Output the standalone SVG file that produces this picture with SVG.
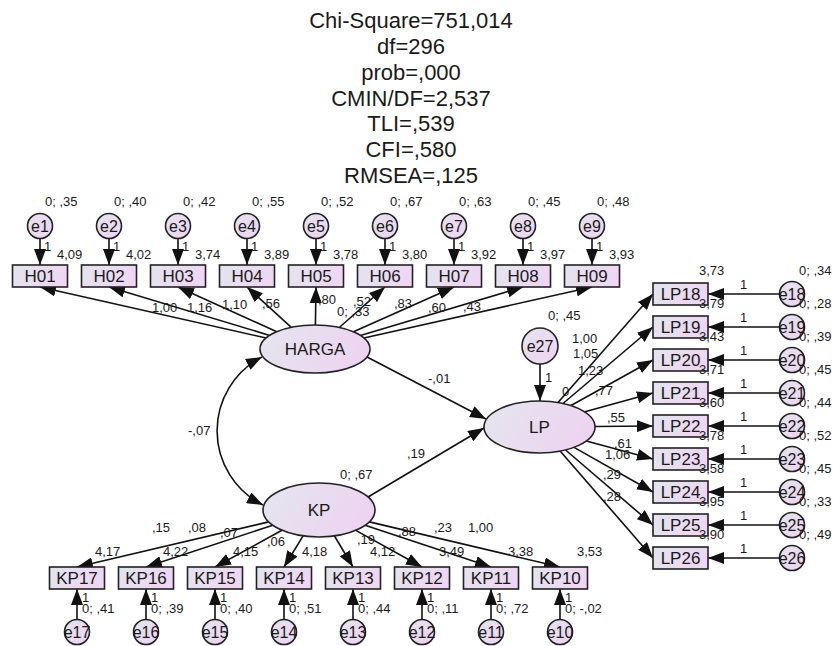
<svg xmlns="http://www.w3.org/2000/svg" width="833" height="646" viewBox="0 0 833 646">
<style>
text{font-family:"Liberation Sans",Arial,sans-serif;fill:#1a1a1a}
.t{font-size:22px;text-anchor:middle}
.s{font-size:13px}
.b{font-size:17px;text-anchor:middle}
.e{font-size:16px;text-anchor:middle}
.box{fill:url(#gb);stroke:#222;stroke-width:1.6}
.lat{fill:url(#gl);stroke:#222;stroke-width:1.6}
.err{fill:url(#ge);stroke:#222;stroke-width:1.6}
#connectors path,#connectors line{stroke:#111;stroke-width:1.6;fill:none;marker-end:url(#ah)}
</style>
<defs>
<linearGradient id="gb" x1="0" y1="0" x2="1" y2="0.3"><stop offset="0" stop-color="#e2e5ee"/><stop offset="1" stop-color="#efd6f2"/></linearGradient>
<linearGradient id="gl" x1="0" y1="0" x2="1" y2="0.3"><stop offset="0" stop-color="#e4e6ee"/><stop offset="1" stop-color="#edd4f1"/></linearGradient>
<linearGradient id="ge" x1="0" y1="0" x2="1" y2="1"><stop offset="0" stop-color="#e6e2ef"/><stop offset="1" stop-color="#ecd4f1"/></linearGradient>
<marker id="ah" markerUnits="userSpaceOnUse" markerWidth="16" markerHeight="12" refX="16" refY="6" orient="auto-start-reverse"><path d="M0,0 L16,6 L0,12 z" fill="#111"/></marker>
</defs>

<g id="title">
<text class="t" x="411" y="28">Chi-Square=751,014</text>
<text class="t" x="411" y="54">df=296</text>
<text class="t" x="411" y="80">prob=,000</text>
<text class="t" x="411" y="106">CMIN/DF=2,537</text>
<text class="t" x="411" y="131">TLI=,539</text>
<text class="t" x="411" y="157">CFI=,580</text>
<text class="t" x="411" y="183">RMSEA=,125</text>
</g>

<g id="connectors">
<line x1="40" y1="238.5" x2="40" y2="265"/>
<line x1="109" y1="238.5" x2="109" y2="265"/>
<line x1="178" y1="238.5" x2="178" y2="265"/>
<line x1="247" y1="238.5" x2="247" y2="265"/>
<line x1="316" y1="238.5" x2="316" y2="265"/>
<line x1="385" y1="238.5" x2="385" y2="265"/>
<line x1="454" y1="238.5" x2="454" y2="265"/>
<line x1="523" y1="238.5" x2="523" y2="265"/>
<line x1="592" y1="238.5" x2="592" y2="265"/>
<line x1="266.1" y1="338" x2="40" y2="287"/>
<line x1="269.7" y1="335.4" x2="109" y2="287"/>
<line x1="276.8" y1="331.7" x2="178" y2="287"/>
<line x1="291.3" y1="327.4" x2="247" y2="287"/>
<line x1="315.4" y1="325" x2="316" y2="287"/>
<line x1="339.3" y1="327.5" x2="385" y2="287"/>
<line x1="353.5" y1="331.8" x2="454" y2="287"/>
<line x1="360.4" y1="335.5" x2="523" y2="287"/>
<line x1="363.9" y1="338" x2="592" y2="287"/>
<line x1="367" y1="357" x2="486" y2="419"/>
<line x1="368" y1="497" x2="484" y2="428"/>
<path d="M262,357 A83,83 0 0 0 263,505" style="marker-start:url(#ah)"/>
<line x1="540" y1="364" x2="540" y2="401"/>
<line x1="558" y1="402.5" x2="653" y2="294"/>
<line x1="563" y1="403.5" x2="653" y2="327"/>
<line x1="571" y1="405.5" x2="653" y2="360"/>
<line x1="584" y1="412" x2="653" y2="393"/>
<line x1="595" y1="426.5" x2="653" y2="426"/>
<line x1="586.3" y1="441" x2="653" y2="459"/>
<line x1="574" y1="447.4" x2="653" y2="492"/>
<line x1="565.6" y1="450" x2="653" y2="525"/>
<line x1="560.1" y1="451" x2="653" y2="558"/>
<line x1="779.5" y1="294" x2="708" y2="294"/>
<line x1="779.5" y1="327" x2="708" y2="327"/>
<line x1="779.5" y1="360" x2="708" y2="360"/>
<line x1="779.5" y1="393" x2="708" y2="393"/>
<line x1="779.5" y1="426" x2="708" y2="426"/>
<line x1="779.5" y1="459" x2="708" y2="459"/>
<line x1="779.5" y1="492" x2="708" y2="492"/>
<line x1="779.5" y1="525" x2="708" y2="525"/>
<line x1="779.5" y1="558" x2="708" y2="558"/>
<line x1="268.7" y1="521.9" x2="77" y2="567"/>
<line x1="272.8" y1="525.2" x2="146" y2="567"/>
<line x1="282" y1="530.3" x2="215" y2="567"/>
<line x1="303.1" y1="535.9" x2="284" y2="567"/>
<line x1="334.5" y1="536" x2="353" y2="567"/>
<line x1="355.8" y1="530.4" x2="422" y2="567"/>
<line x1="365.1" y1="525.3" x2="491" y2="567"/>
<line x1="369.3" y1="521.9" x2="560" y2="567"/>
<line x1="77" y1="619.5" x2="77" y2="589"/>
<line x1="146" y1="619.5" x2="146" y2="589"/>
<line x1="215" y1="619.5" x2="215" y2="589"/>
<line x1="284" y1="619.5" x2="284" y2="589"/>
<line x1="353" y1="619.5" x2="353" y2="589"/>
<line x1="422" y1="619.5" x2="422" y2="589"/>
<line x1="491" y1="619.5" x2="491" y2="589"/>
<line x1="560" y1="619.5" x2="560" y2="589"/>
</g>

<g id="HARGA"><ellipse class="lat" cx="315" cy="349" rx="55" ry="24"/><text class="b" x="315" y="355">HARGA</text></g>
<g id="LP"><ellipse class="lat" cx="539.5" cy="427" rx="55.5" ry="26"/><text class="b" x="539.5" y="433">LP</text></g>
<g id="KP"><ellipse class="lat" cx="319" cy="510" rx="56" ry="27"/><text class="b" x="319" y="516">KP</text></g>
<g id="e27"><circle class="err" cx="540" cy="346" r="18"/><text class="e" x="540" y="352">e27</text></g>

<g id="e1"><circle class="err" cx="40" cy="226" r="12.5"/><text class="e" x="40" y="232">e1</text></g>
<g id="e2"><circle class="err" cx="109" cy="226" r="12.5"/><text class="e" x="109" y="232">e2</text></g>
<g id="e3"><circle class="err" cx="178" cy="226" r="12.5"/><text class="e" x="178" y="232">e3</text></g>
<g id="e4"><circle class="err" cx="247" cy="226" r="12.5"/><text class="e" x="247" y="232">e4</text></g>
<g id="e5"><circle class="err" cx="316" cy="226" r="12.5"/><text class="e" x="316" y="232">e5</text></g>
<g id="e6"><circle class="err" cx="385" cy="226" r="12.5"/><text class="e" x="385" y="232">e6</text></g>
<g id="e7"><circle class="err" cx="454" cy="226" r="12.5"/><text class="e" x="454" y="232">e7</text></g>
<g id="e8"><circle class="err" cx="523" cy="226" r="12.5"/><text class="e" x="523" y="232">e8</text></g>
<g id="e9"><circle class="err" cx="592" cy="226" r="12.5"/><text class="e" x="592" y="232">e9</text></g>

<g id="H01"><rect class="box" x="12.5" y="265" width="55" height="22"/><text class="b" x="40" y="282">H01</text></g>
<g id="H02"><rect class="box" x="81.5" y="265" width="55" height="22"/><text class="b" x="109" y="282">H02</text></g>
<g id="H03"><rect class="box" x="150.5" y="265" width="55" height="22"/><text class="b" x="178" y="282">H03</text></g>
<g id="H04"><rect class="box" x="219.5" y="265" width="55" height="22"/><text class="b" x="247" y="282">H04</text></g>
<g id="H05"><rect class="box" x="288.5" y="265" width="55" height="22"/><text class="b" x="316" y="282">H05</text></g>
<g id="H06"><rect class="box" x="357.5" y="265" width="55" height="22"/><text class="b" x="385" y="282">H06</text></g>
<g id="H07"><rect class="box" x="426.5" y="265" width="55" height="22"/><text class="b" x="454" y="282">H07</text></g>
<g id="H08"><rect class="box" x="495.5" y="265" width="55" height="22"/><text class="b" x="523" y="282">H08</text></g>
<g id="H09"><rect class="box" x="564.5" y="265" width="55" height="22"/><text class="b" x="592" y="282">H09</text></g>

<g id="LP18"><rect class="box" x="653" y="283" width="55" height="22"/><text class="b" x="680.5" y="300">LP18</text></g>
<g id="LP19"><rect class="box" x="653" y="316" width="55" height="22"/><text class="b" x="680.5" y="333">LP19</text></g>
<g id="LP20"><rect class="box" x="653" y="349" width="55" height="22"/><text class="b" x="680.5" y="366">LP20</text></g>
<g id="LP21"><rect class="box" x="653" y="382" width="55" height="22"/><text class="b" x="680.5" y="399">LP21</text></g>
<g id="LP22"><rect class="box" x="653" y="415" width="55" height="22"/><text class="b" x="680.5" y="432">LP22</text></g>
<g id="LP23"><rect class="box" x="653" y="448" width="55" height="22"/><text class="b" x="680.5" y="465">LP23</text></g>
<g id="LP24"><rect class="box" x="653" y="481" width="55" height="22"/><text class="b" x="680.5" y="498">LP24</text></g>
<g id="LP25"><rect class="box" x="653" y="514" width="55" height="22"/><text class="b" x="680.5" y="531">LP25</text></g>
<g id="LP26"><rect class="box" x="653" y="547" width="55" height="22"/><text class="b" x="680.5" y="564">LP26</text></g>

<g id="e18"><circle class="err" cx="792" cy="294" r="12.5"/><text class="e" x="792" y="300">e18</text></g>
<g id="e19"><circle class="err" cx="792" cy="327" r="12.5"/><text class="e" x="792" y="333">e19</text></g>
<g id="e20"><circle class="err" cx="792" cy="360" r="12.5"/><text class="e" x="792" y="366">e20</text></g>
<g id="e21"><circle class="err" cx="792" cy="393" r="12.5"/><text class="e" x="792" y="399">e21</text></g>
<g id="e22"><circle class="err" cx="792" cy="426" r="12.5"/><text class="e" x="792" y="432">e22</text></g>
<g id="e23"><circle class="err" cx="792" cy="459" r="12.5"/><text class="e" x="792" y="465">e23</text></g>
<g id="e24"><circle class="err" cx="792" cy="492" r="12.5"/><text class="e" x="792" y="498">e24</text></g>
<g id="e25"><circle class="err" cx="792" cy="525" r="12.5"/><text class="e" x="792" y="531">e25</text></g>
<g id="e26"><circle class="err" cx="792" cy="558" r="12.5"/><text class="e" x="792" y="564">e26</text></g>

<g id="KP17"><rect class="box" x="49.5" y="567" width="55" height="22"/><text class="b" x="77" y="584">KP17</text></g>
<g id="KP16"><rect class="box" x="118.5" y="567" width="55" height="22"/><text class="b" x="146" y="584">KP16</text></g>
<g id="KP15"><rect class="box" x="187.5" y="567" width="55" height="22"/><text class="b" x="215" y="584">KP15</text></g>
<g id="KP14"><rect class="box" x="256.5" y="567" width="55" height="22"/><text class="b" x="284" y="584">KP14</text></g>
<g id="KP13"><rect class="box" x="325.5" y="567" width="55" height="22"/><text class="b" x="353" y="584">KP13</text></g>
<g id="KP12"><rect class="box" x="394.5" y="567" width="55" height="22"/><text class="b" x="422" y="584">KP12</text></g>
<g id="KP11"><rect class="box" x="463.5" y="567" width="55" height="22"/><text class="b" x="491" y="584">KP11</text></g>
<g id="KP10"><rect class="box" x="532.5" y="567" width="55" height="22"/><text class="b" x="560" y="584">KP10</text></g>

<g id="e17"><circle class="err" cx="77" cy="632" r="12.5"/><text class="e" x="77" y="638">e17</text></g>
<g id="e16"><circle class="err" cx="146" cy="632" r="12.5"/><text class="e" x="146" y="638">e16</text></g>
<g id="e15"><circle class="err" cx="215" cy="632" r="12.5"/><text class="e" x="215" y="638">e15</text></g>
<g id="e14"><circle class="err" cx="284" cy="632" r="12.5"/><text class="e" x="284" y="638">e14</text></g>
<g id="e13"><circle class="err" cx="353" cy="632" r="12.5"/><text class="e" x="353" y="638">e13</text></g>
<g id="e12"><circle class="err" cx="422" cy="632" r="12.5"/><text class="e" x="422" y="638">e12</text></g>
<g id="e11"><circle class="err" cx="491" cy="632" r="12.5"/><text class="e" x="491" y="638">e11</text></g>
<g id="e10"><circle class="err" cx="560" cy="632" r="12.5"/><text class="e" x="560" y="638">e10</text></g>

<g id="labels">
<text class="s" x="45" y="206">0; ,35</text>
<text class="s" x="114" y="206">0; ,40</text>
<text class="s" x="183" y="206">0; ,42</text>
<text class="s" x="252" y="206">0; ,55</text>
<text class="s" x="321" y="206">0; ,52</text>
<text class="s" x="390" y="206">0; ,67</text>
<text class="s" x="459" y="206">0; ,63</text>
<text class="s" x="528" y="206">0; ,45</text>
<text class="s" x="597" y="206">0; ,48</text>
<text class="s" x="44" y="251">1</text>
<text class="s" x="113" y="251">1</text>
<text class="s" x="182" y="251">1</text>
<text class="s" x="251" y="251">1</text>
<text class="s" x="320" y="251">1</text>
<text class="s" x="389" y="251">1</text>
<text class="s" x="458" y="251">1</text>
<text class="s" x="527" y="251">1</text>
<text class="s" x="596" y="251">1</text>
<text class="s" x="57" y="259">4,09</text>
<text class="s" x="126" y="259">4,02</text>
<text class="s" x="195" y="259">3,74</text>
<text class="s" x="264" y="259">3,89</text>
<text class="s" x="333" y="259">3,78</text>
<text class="s" x="402" y="259">3,80</text>
<text class="s" x="471" y="259">3,92</text>
<text class="s" x="540" y="259">3,97</text>
<text class="s" x="609" y="259">3,93</text>
<text class="s" x="152" y="312">1,00</text>
<text class="s" x="187" y="312">1,16</text>
<text class="s" x="222" y="309">1,10</text>
<text class="s" x="262" y="308">,56</text>
<text class="s" x="318" y="304">,80</text>
<text class="s" x="353" y="306">,52</text>
<text class="s" x="337" y="316">0; ,33</text>
<text class="s" x="394" y="308">,83</text>
<text class="s" x="428" y="312">,60</text>
<text class="s" x="463" y="311">,43</text>
<text class="s" x="548" y="320">0; ,45</text>
<text class="s" x="428" y="383">-,01</text>
<text class="s" x="545" y="382">1</text>
<text class="s" x="407" y="458">,19</text>
<text class="s" x="340" y="479">0; ,67</text>
<text class="s" x="188" y="435">-,07</text>
<text class="s" x="572" y="343">1,00</text>
<text class="s" x="573" y="358">1,05</text>
<text class="s" x="578" y="375">1,23</text>
<text class="s" x="562" y="396">0</text>
<text class="s" x="595" y="395">,77</text>
<text class="s" x="607" y="422">,55</text>
<text class="s" x="614" y="448">,61</text>
<text class="s" x="605" y="459">1,06</text>
<text class="s" x="603" y="479">,29</text>
<text class="s" x="603" y="501">,28</text>
<text class="s" x="699" y="275">3,73</text>
<text class="s" x="699" y="308">3,79</text>
<text class="s" x="699" y="341">3,43</text>
<text class="s" x="699" y="374">3,71</text>
<text class="s" x="699" y="407">3,60</text>
<text class="s" x="699" y="440">3,78</text>
<text class="s" x="699" y="473">3,58</text>
<text class="s" x="699" y="506">3,95</text>
<text class="s" x="699" y="539">3,90</text>
<text class="s" x="740" y="289">1</text>
<text class="s" x="740" y="322">1</text>
<text class="s" x="740" y="355">1</text>
<text class="s" x="740" y="388">1</text>
<text class="s" x="740" y="421">1</text>
<text class="s" x="740" y="454">1</text>
<text class="s" x="740" y="487">1</text>
<text class="s" x="740" y="520">1</text>
<text class="s" x="740" y="553">1</text>
<text class="s" x="799" y="275">0; ,34</text>
<text class="s" x="799" y="308">0; ,28</text>
<text class="s" x="799" y="341">0; ,39</text>
<text class="s" x="799" y="374">0; ,45</text>
<text class="s" x="799" y="407">0; ,44</text>
<text class="s" x="799" y="440">0; ,52</text>
<text class="s" x="799" y="473">0; ,45</text>
<text class="s" x="799" y="506">0; ,33</text>
<text class="s" x="799" y="539">0; ,49</text>
<text class="s" x="152" y="532">,15</text>
<text class="s" x="188" y="532">,08</text>
<text class="s" x="220" y="537">,07</text>
<text class="s" x="267" y="546">,06</text>
<text class="s" x="357" y="544">,19</text>
<text class="s" x="398" y="536">,88</text>
<text class="s" x="434" y="532">,23</text>
<text class="s" x="468" y="532">1,00</text>
<text class="s" x="95" y="556">4,17</text>
<text class="s" x="163" y="556">4,22</text>
<text class="s" x="233" y="556">4,15</text>
<text class="s" x="302" y="556">4,18</text>
<text class="s" x="370" y="556">4,12</text>
<text class="s" x="439" y="556">3,49</text>
<text class="s" x="508" y="556">3,38</text>
<text class="s" x="577" y="556">3,53</text>
<text class="s" x="82" y="602">1</text>
<text class="s" x="151" y="602">1</text>
<text class="s" x="220" y="602">1</text>
<text class="s" x="289" y="602">1</text>
<text class="s" x="358" y="602">1</text>
<text class="s" x="427" y="602">1</text>
<text class="s" x="496" y="602">1</text>
<text class="s" x="565" y="602">1</text>
<text class="s" x="82" y="613">0; ,41</text>
<text class="s" x="151" y="613">0; ,39</text>
<text class="s" x="220" y="613">0; ,40</text>
<text class="s" x="289" y="613">0; ,51</text>
<text class="s" x="358" y="613">0; ,44</text>
<text class="s" x="427" y="613">0; ,11</text>
<text class="s" x="496" y="613">0; ,72</text>
<text class="s" x="565" y="613">0; -,02</text>
</g>
</svg>
